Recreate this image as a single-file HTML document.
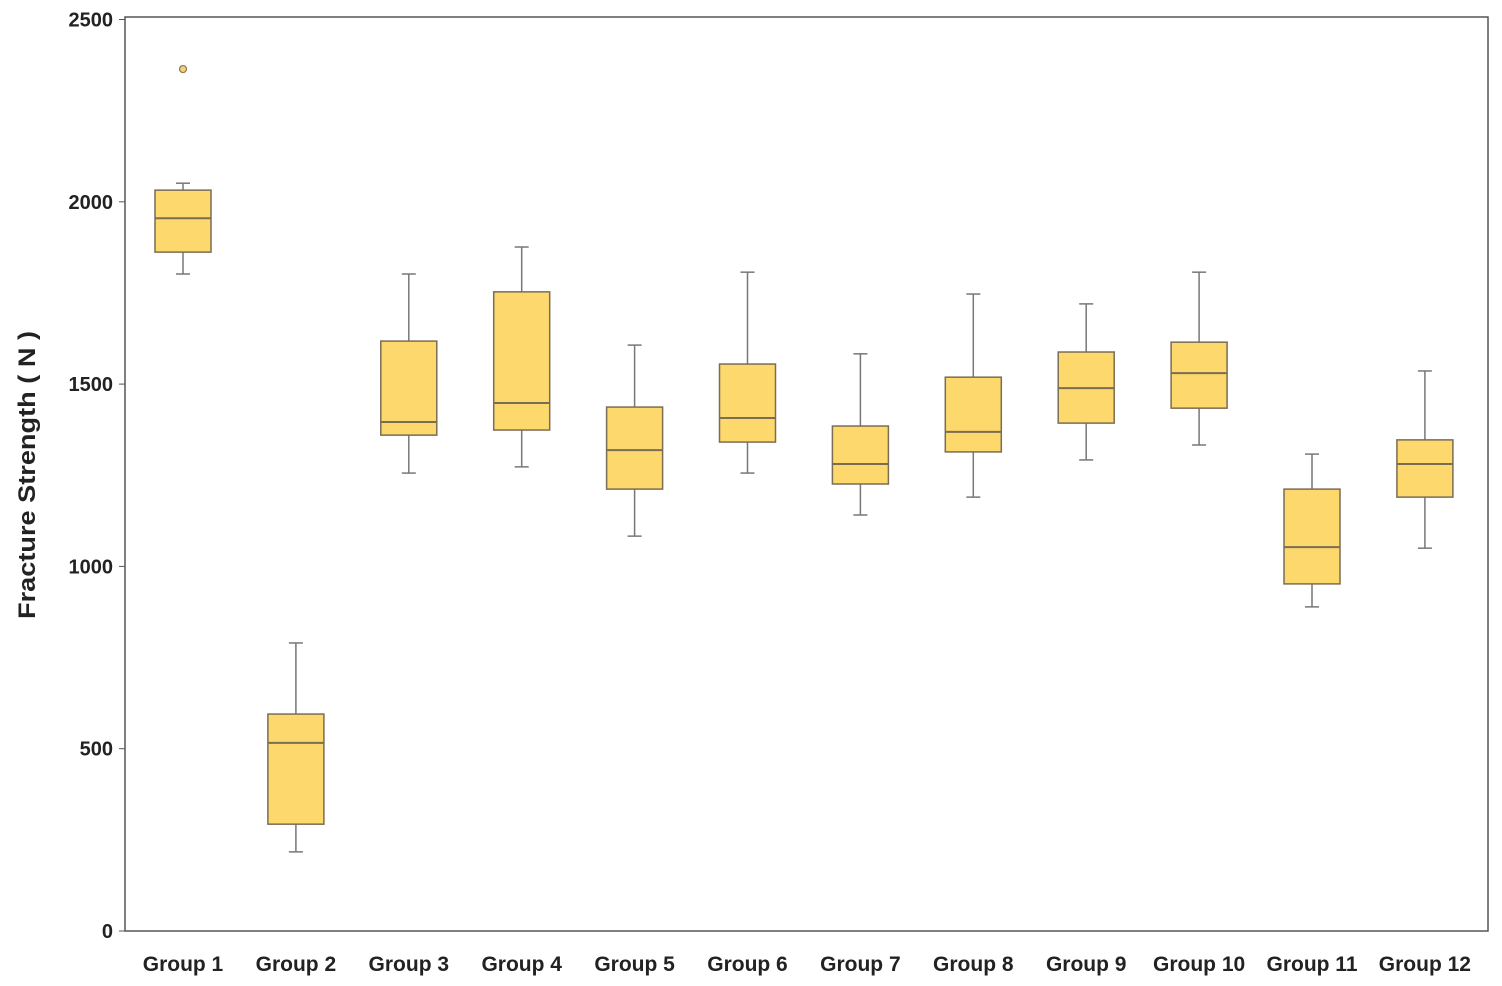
<!DOCTYPE html>
<html><head><meta charset="utf-8"><style>
html,body{margin:0;padding:0;background:#fff;}
svg{display:block;font-family:"Liberation Sans",sans-serif;}
</style></head><body>
<svg id="chart" width="1502" height="986">
<rect x="125" y="17" width="1363" height="914" fill="#fff" stroke="#555" stroke-width="1.5"/>
<g id="marks"></g>
<text x="35" y="475" transform="rotate(-90 35 475)" text-anchor="middle" font-size="24" font-weight="bold" fill="#222" textLength="288" lengthAdjust="spacingAndGlyphs">Fracture Strength ( N )</text>
</svg>
<script>
const categories=["Group 1","Group 2","Group 3","Group 4","Group 5","Group 6","Group 7","Group 8","Group 9","Group 10","Group 11","Group 12"];
const whiskerHigh=[2051,790,1802,1876,1607,1807,1583,1747,1720,1807,1308,1536];
const q3=[2032,595,1618,1753,1437,1555,1385,1519,1588,1615,1212,1347];
const medians=[1955,516,1396,1448,1319,1407,1281,1369,1489,1530,1053,1281];
const q1=[1862,293,1360,1374,1212,1341,1226,1314,1393,1434,952,1190];
const whiskerLow=[1802,217,1256,1273,1083,1256,1141,1190,1292,1333,889,1050];
const outliers=[[0,2364]];
const yTicks=[0,500,1000,1500,2000,2500];
const NS="http://www.w3.org/2000/svg";
const g=document.getElementById('marks');
const y=v=>931-v*(911.5/2500);
const x=i=>183+i*112.9;
function mk(tag,attrs,parent){const e=document.createElementNS(NS,tag);for(const k in attrs)e.setAttribute(k,attrs[k]);(parent||g).appendChild(e);return e;}
yTicks.forEach(t=>{
  const e=mk('text',{x:113,y:y(t)+7,'text-anchor':'end','font-size':20,'font-weight':'bold',fill:'#222'});
  e.textContent=t;
  
  
  const l=mk('line',{x1:119,x2:125,y1:y(t),y2:y(t),stroke:'#555'});
  
  
});
categories.forEach((c,i)=>{
  const cx=x(i),w=56;
  const wl=mk('line',{x1:cx,x2:cx,y1:y(whiskerHigh[i]),y2:y(whiskerLow[i]),stroke:'#777','stroke-width':1.5});
  
  
  [whiskerHigh[i],whiskerLow[i]].forEach(v=>{
    const cap=mk('line',{x1:cx-7,x2:cx+7,y1:y(v),y2:y(v),stroke:'#777','stroke-width':1.5});
    
    
  });
  const b=mk('rect',{x:cx-w/2,y:y(q3[i]),width:w,height:y(q1[i])-y(q3[i]),fill:'#fdd86c',stroke:'#7a6d55','stroke-width':1.5});
  
  
  const m=mk('line',{x1:cx-w/2,x2:cx+w/2,y1:y(medians[i]),y2:y(medians[i]),stroke:'#7a6d55','stroke-width':2});
  
  
  const t=mk('text',{x:cx,y:971,'text-anchor':'middle','font-size':21,'font-weight':'bold',fill:'#222'});
  t.textContent=c;
  
  
});
outliers.forEach(o=>{
  const c=mk('circle',{cx:x(o[0]),cy:y(o[1]),r:3.5,fill:'#f3d27a',stroke:'#8a7a55','stroke-width':1.2});
  
  
});
</script>
</body></html>
